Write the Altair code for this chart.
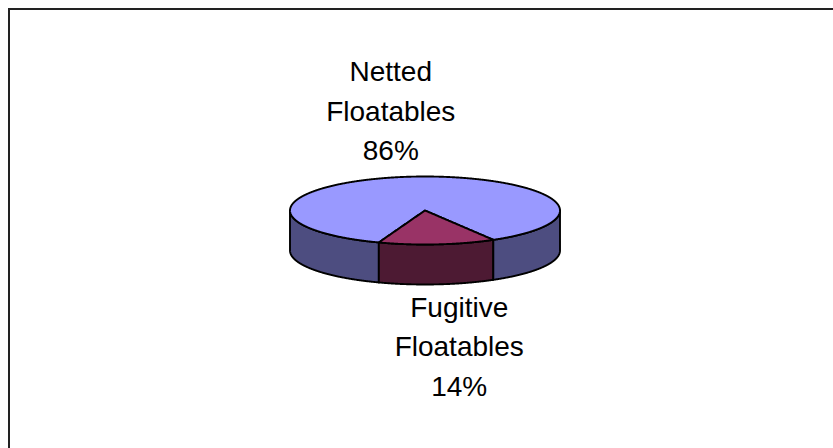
import math

import altair as alt
import numpy as np
import pandas as pd

# ---- data -------------------------------------------------------------
categories = ["Netted Floatables", "Fugitive Floatables"]
label_words = [["Netted", "Floatables"], ["Fugitive", "Floatables"]]
shares = [86, 14]

top_colors = ["#9999FF", "#993366"]
side_colors = ["#4D4D80", "#4D1A33"]

# ---- geometry of the tilted pie (in units of the pie's x-radius) ------
START_DEG = 110.0        # first slice starts here, clockwise from 3 o'clock
TILT = 34 / 135          # vertical squash of the top face
DEPTH = 40 / 135         # thickness of the pie
LABEL_DX = 22 / 135
LABEL_DY = 64 / 135
LINE_H = 39.5 / 135

# page layout (pixels)
PAGE_W, PAGE_H = 833, 448
PAD = 9
CX, CY, UNIT = 425, 210.5, 135
W, H = PAGE_W - PAD, PAGE_H - PAD

x_dom = [(PAD - CX) / UNIT, (PAGE_W - CX) / UNIT]
y_dom = [(CY - PAGE_H) / UNIT, (CY - PAD) / UNIT]

# slice angles
total = sum(shares)
bounds = []
a = START_DEG
for s in shares:
    b = a + 360.0 * s / total
    bounds.append((a, b))
    a = b


def rim(deg):
    r = math.radians(deg)
    return math.cos(r), -TILT * math.sin(r)


def ell(x):
    return TILT * np.sqrt(np.clip(1 - x * x, 0, None))


# the small slice faces the viewer; its edges meet the front rim here
f0, f1 = bounds[1]
xR, yR = rim(f0)
xL, yL = rim(f1)


def radial(x):
    return np.where(x < 0, x * yL / xL, x * yR / xR)


base = -np.cos(np.linspace(0, math.pi, 601))


def span(x0, x1, extra=()):
    xs = base[(base > x0) & (base < x1)]
    return np.unique(np.concatenate([[x0, x1], xs, np.asarray(extra, float)]))


rows_top = []
xs = span(-1.0, 1.0, [xL, 0.0, xR])
inside = (xs >= xL) & (xs <= xR)
for x, y, y2 in zip(xs, ell(xs), np.where(inside, radial(xs), -ell(xs))):
    rows_top.append({"category": categories[0], "piece": "top", "x": x, "y": y, "y2": y2})
xs = span(xL, xR, [0.0])
for x, y, y2 in zip(xs, radial(xs), -ell(xs)):
    rows_top.append({"category": categories[1], "piece": "top", "x": x, "y": y, "y2": y2})
top_df = pd.DataFrame(rows_top)

rows_side = []
for cat, piece, x0, x1 in [
    (categories[0], "left", -1.0, xL),
    (categories[1], "front", xL, xR),
    (categories[0], "right", xR, 1.0),
]:
    xs = span(x0, x1)
    for x, y in zip(xs, -ell(xs)):
        rows_side.append({"category": cat, "piece": piece, "x": x, "y": y, "y2": y - DEPTH})
side_df = pd.DataFrame(rows_side)

# labels: three lines each, placed off the rim along the slice's mid-angle
rows_lab = []
for cat, words, s, (a0, a1) in zip(categories, label_words, shares, bounds):
    mid = (a0 + a1) / 2
    rx, ry = rim(mid)
    front = math.sin(math.radians(mid)) > 0
    if front:
        ry -= DEPTH
    lx = rx + math.copysign(LABEL_DX, math.cos(math.radians(mid)))
    ly = ry + (-LABEL_DY if front else LABEL_DY)
    for i, txt in enumerate(words + [f"{s}%"]):
        rows_lab.append({"x": lx, "y": ly + (1 - i) * LINE_H, "text": txt})
lab_df = pd.DataFrame(rows_lab)

# ---- chart ------------------------------------------------------------
X = alt.X("x:Q", scale=alt.Scale(domain=x_dom, nice=False, zero=False), axis=None)
Y = alt.Y("y:Q", scale=alt.Scale(domain=y_dom, nice=False, zero=False), axis=None, stack=None)

sides = alt.Chart(side_df).mark_area(
    stroke="black", strokeWidth=1.9, strokeJoin="round"
).encode(
    x=X, y=Y, y2="y2:Q",
    color=alt.Color("category:N", scale=alt.Scale(domain=categories, range=side_colors), legend=None),
    detail="piece:N",
)

tops = alt.Chart(top_df).mark_area(
    stroke="black", strokeWidth=1.9, strokeJoin="round"
).encode(
    x=X, y=Y, y2="y2:Q",
    color=alt.Color("category:N", scale=alt.Scale(domain=categories, range=top_colors), legend=None),
    detail="piece:N",
)

labels = alt.Chart(lab_df).mark_text(
    font="Liberation Sans", fontSize=28, baseline="middle", align="center", color="black"
).encode(x=X, y=Y, text="text:N")

frame = alt.Data(values=[{}])
border_top = alt.Chart(frame).mark_rule(color="#222222", strokeWidth=2).encode(
    x=alt.value(-1), x2=alt.value(W), y=alt.value(0)
)
border_left = alt.Chart(frame).mark_rule(color="#222222", strokeWidth=2).encode(
    x=alt.value(0), y=alt.value(-1), y2=alt.value(H)
)

chart = (
    alt.layer(sides, tops, labels, border_top, border_left)
    .resolve_scale(color="independent")
    .properties(
        width=W,
        height=H,
        autosize=alt.AutoSizeParams(type="none"),
        padding={"left": PAD, "top": PAD, "right": 0, "bottom": 0},
        background="white",
    )
    .configure_view(stroke=None)
)

chart.save("out.html", embed_options={"renderer": "svg", "actions": False})
